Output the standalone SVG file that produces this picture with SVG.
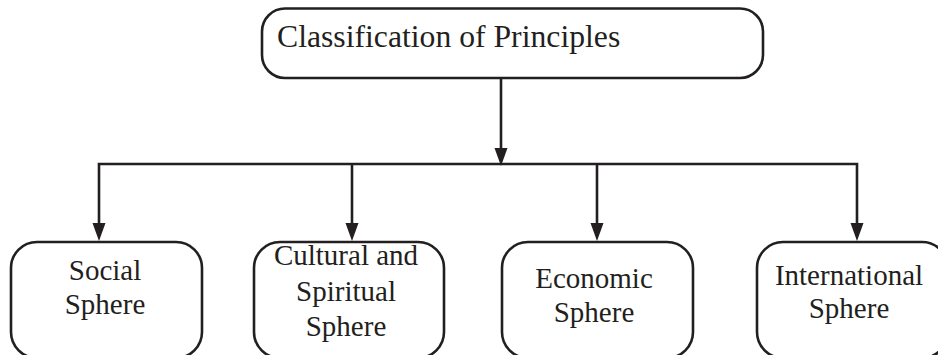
<svg xmlns="http://www.w3.org/2000/svg" width="938" height="355" viewBox="0 0 938 355">
  <defs>
    <style>
      .box { fill: #ffffff; stroke: #231f20; stroke-width: 2.6; }
      .lbl { fill: #231f20; }
      .top { font-size: 31.7px; }
      .sub { font-size: 29px; text-anchor: middle; }
      .wire { fill: none; stroke: #231f20; stroke-width: 2.6; }
      .arrow { fill: #231f20; }
    </style>
  </defs>
  <rect width="938" height="355" fill="#ffffff"/>

  <!-- connectors: trunk, bus and four drops with solid heads -->
  <g id="connectors">
    <path class="wire" d="M501,78 V149"/>
    <path class="arrow" d="M494.5,148 L507.5,148 L501,166 Z"/>
    <path class="wire" d="M99,225 V164 H857 V225"/>
    <path class="wire" d="M352,164 V225"/>
    <path class="wire" d="M597,164 V225"/>
    <path class="arrow" d="M92.5,223 L105.5,223 L99,241 Z"/>
    <path class="arrow" d="M345.5,223 L358.5,223 L352,241 Z"/>
    <path class="arrow" d="M590.5,223 L603.5,223 L597,241 Z"/>
    <path class="arrow" d="M850.5,223 L863.5,223 L857,241 Z"/>
  </g>

  <g font-family="'Liberation Serif', 'Times New Roman', Times, serif">
    <!-- root -->
    <g id="classification">
      <rect class="box" x="262" y="8.5" width="501" height="69.5" rx="23" ry="23"/>
      <text class="lbl top" x="277" y="47">Classification of Principles</text>
    </g>

    <!-- spheres -->
    <g id="social">
      <rect class="box" x="11" y="242" width="191" height="116" rx="26" ry="26"/>
      <text class="lbl sub" x="105" y="280">Social</text>
      <text class="lbl sub" x="105" y="314">Sphere</text>
    </g>
    <g id="cultural">
      <rect class="box" x="254" y="242" width="190" height="116" rx="26" ry="26"/>
      <text class="lbl sub" x="346" y="265">Cultural and</text>
      <text class="lbl sub" x="346" y="301">Spiritual</text>
      <text class="lbl sub" x="346" y="336">Sphere</text>
    </g>
    <g id="economic">
      <rect class="box" x="502" y="242" width="191" height="116" rx="26" ry="26"/>
      <text class="lbl sub" x="594" y="288">Economic</text>
      <text class="lbl sub" x="594" y="322">Sphere</text>
    </g>
    <g id="international">
      <rect class="box" x="757" y="242" width="191" height="116" rx="26" ry="26"/>
      <text class="lbl sub" x="849" y="285">International</text>
      <text class="lbl sub" x="849" y="318">Sphere</text>
    </g>
  </g>
</svg>
